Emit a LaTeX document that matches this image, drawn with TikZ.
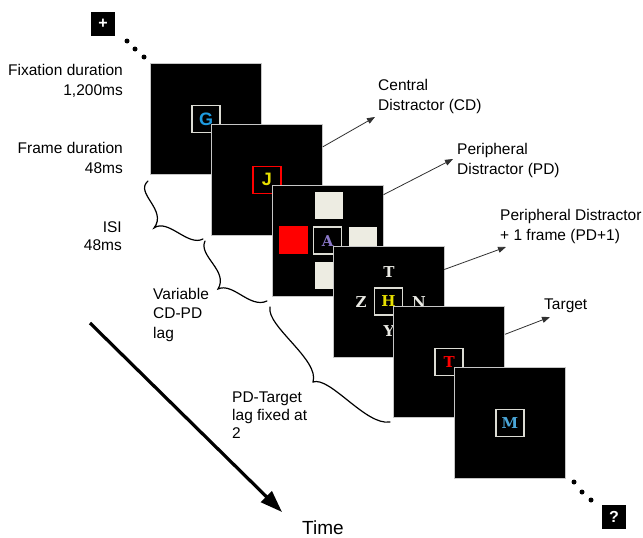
\documentclass[tikz,border=0pt]{standalone}
\usepackage{fontspec}
\setmainfont{Liberation Sans}
\newfontfamily\slabf{DejaVu Serif}
\usetikzlibrary{arrows.meta,calc}
\definecolor{gcol}{HTML}{1E9BE0}
\definecolor{ycol}{HTML}{E8E000}
\definecolor{acol}{HTML}{8A78C8}
\definecolor{mcol}{HTML}{4AA6D8}
\definecolor{tcol}{HTML}{FF0000}
\definecolor{boxcol}{HTML}{DCDCD4}
\definecolor{cream}{HTML}{EDECE2}
\definecolor{dcol}{HTML}{EAEAE4}
\definecolor{linecol}{HTML}{303030}
\begin{document}
\begin{tikzpicture}[x=1pt,y=-1pt,
  frame/.style={rectangle, draw=gray!45, line width=0.8pt, fill=black, minimum size=111pt, inner sep=0},
  lbox/.style={rectangle, draw=boxcol, line width=1.5pt, fill=black, minimum width=28pt, minimum height=27pt, inner sep=0},
  sansl/.style={font=\fontsize{18}{18}\selectfont\bfseries},
  slabl/.style={font=\slabf\bfseries\fontsize{15}{15}\selectfont},
  sq/.style={rectangle, fill=cream, minimum width=28pt, minimum height=27pt, inner sep=0},
  lbl/.style={font=\fontsize{15.5}{20}\selectfont, inner sep=0},
  ptr/.style={draw=linecol, line width=0.8pt, -{Triangle[length=8pt,width=6pt]}},
  brace/.style={draw=black, line width=1.2pt, line cap=round},
  dotn/.style={circle, fill=black, minimum size=5pt, inner sep=0},
  endbox/.style={rectangle, fill=black, text=white, minimum size=24pt, inner sep=0, font=\fontsize{16}{16}\selectfont\bfseries}]
\useasboundingbox (0,0) rectangle (643,538);

% fixation and dots
\node[endbox] (fix) at (103,24) {+};
\node[dotn] (d1) at (127,41) {};
\node[dotn] (d2) at (135,49) {};
\node[dotn] (d3) at (144,57) {};

% frame 1
\node[frame] (f1) at (206,119) {};
\node[lbox, sansl, text=gcol] (bg) at (f1) {G};
% frame 2
\node[frame] (f2) at (266.8,179.8) {};
\node[lbox, sansl, text=ycol, draw=red] (bj) at (f2) {J};
% frame 3
\node[frame] (f3) at (327.6,240.6) {};
\node[sq] (s3t) at (329,205.5) {};
\node[sq] (s3r) at (363,240.5) {};
\node[sq] (s3b) at (329,275.5) {};
\node[rectangle, fill=red, minimum width=29pt, minimum height=28pt, inner sep=0] (s3l) at (293.5,240) {};
\node[lbox, slabl, text=acol] (ba) at (f3) {A};
% frame 4
\node[frame] (f4) at (388.4,301.4) {};
\node[lbox, slabl, text=ycol] (bh) at (f4) {H};
\node[slabl, text=dcol, inner sep=0] (lt) at (389,272) {T};
\node[slabl, text=dcol, inner sep=0] (lz) at (361,302) {Z};
\node[slabl, text=dcol, inner sep=0] (ln) at (419,302) {N};
\node[slabl, text=dcol, inner sep=0] (ly) at (389,331) {Y};
% frame 5
\node[frame] (f5) at (449.2,362.2) {};
\node[lbox, slabl, text=tcol] (bt) at (f5) {T};
% frame 6
\node[frame] (f6) at (510,423) {};
\node[lbox, slabl, text=mcol] (bm) at (f6) {M};

% end dots and question box
\node[dotn] (e1) at (574,482) {};
\node[dotn] (e2) at (582,492) {};
\node[dotn] (e3) at (591,500) {};
\node[endbox] (qm) at (614,516.5) {?};

% left labels
\node[lbl, align=right, anchor=north east] (fixl) at (123,64) {Fixation duration\\1,200ms};
\node[lbl, align=right, anchor=north east] (framel) at (123,142) {Frame duration\\48ms};
\node[lbl, align=right, anchor=north east, font=\fontsize{15.5}{18.5}\selectfont] (isil) at (122,221) {ISI\\48ms};
\node[lbl, align=left, anchor=north west, font=\fontsize{15.5}{19.5}\selectfont] (varl) at (153,288) {Variable\\CD-PD\\lag};
\node[lbl, align=left, anchor=north west, font=\fontsize{15.5}{18}\selectfont] (pdtl) at (232,392) {PD-Target\\lag fixed at\\2};

% right labels
\node[lbl, align=left, anchor=north west] (cdl) at (378,79) {Central\\Distractor (CD)};
\node[lbl, align=left, anchor=north west] (pdl) at (457,143) {Peripheral\\Distractor (PD)};
\node[lbl, align=left, anchor=north west] (pd1l) at (500,209) {Peripheral Distractor\\+ 1 frame (PD+1)};
\node[lbl, anchor=north west] (tgl) at (544,299) {Target};
\node[inner sep=0, anchor=north, font=\fontsize{19}{19}\selectfont] (timel) at (323,521) {Time};

% pointers
\coordinate (cdtip) at (375,117);
\coordinate (pdtip) at (453,159);
\coordinate (pd1tip) at (506,247);
\coordinate (tgtip) at (550,317);
\draw[ptr] ($(f2.north east)+(0,23)$) -- (cdtip);
\draw[ptr] ($(f3.north east)+(0,10)$) -- (pdtip);
\draw[ptr] ($(f4.north east)+(0,24)$) -- (pd1tip);
\draw[ptr] ($(f5.north east)+(0,28)$) -- (tgtip);

% time arrow
\coordinate (ts) at (90,323);
\coordinate (te) at (282,512);
\draw[line width=3.2pt, -{Triangle[length=22pt,width=15pt]}] (ts) -- (te);

% braces
\draw[brace] (148,181) .. controls (134,193) and (168,210) .. (154,228)
                       .. controls (168,218) and (188,247) .. (203,239);
\draw[brace] (205,241) .. controls (198,256) and (229,271) .. (218,289)
                       .. controls (233,282) and (250,309) .. (267,301);
\draw[brace] (270,307) .. controls (266,326) and (320,360) .. (313,382)
                       .. controls (330,376) and (366,426) .. (390,422);
\end{tikzpicture}
\end{document}
